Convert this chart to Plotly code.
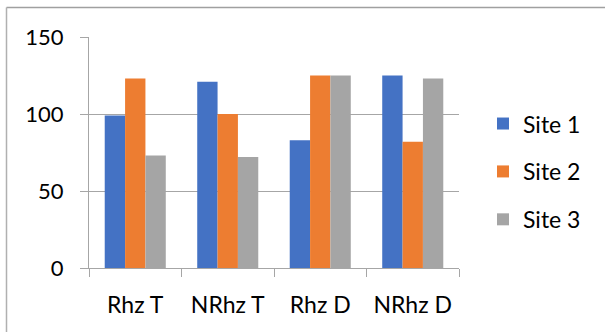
import plotly.graph_objects as go

categories = ["Rhz T", "NRhz T", "Rhz D", "NRhz D"]
site1 = [99, 121, 83, 125]
site2 = [123, 100, 125, 82]
site3 = [73, 72, 125, 123]
series_names = ["Site 1", "Site 2", "Site 3"]
colors = ["#4472C4", "#ED7D31", "#A5A5A5"]
y_ticks = [0, 50, 100, 150]

FONT = "Lato"

fig = go.Figure()
for i, (name, vals) in enumerate(zip(series_names, [site1, site2, site3])):
    fig.add_trace(go.Bar(
        x=categories, y=vals, name=name,
        marker=dict(color=colors[i], line=dict(width=0)),
        legendgroup=name,
    ))

W, H = 605, 332
L, R, T, B = 89, 146, 37, 63.5
pw = W - L - R
ph = H - T - B

fig.update_layout(
    width=W, height=H,
    margin=dict(l=L, r=R, t=T, b=B, pad=0),
    paper_bgcolor="white", plot_bgcolor="white",
    barmode="group", bargap=0.34, bargroupgap=0,
    font=dict(family=FONT, size=23, color="#000000"),
    legend=dict(
        x=(483 - L) / pw, xanchor="left",
        y=(268.5 - 124) / ph + 0.12 - 6 / ph, yanchor="top",
        font=dict(family=FONT, size=23, color="#000000"),
        tracegroupgap=15, itemwidth=30,
        bgcolor="rgba(0,0,0,0)",
    ),
    xaxis=dict(
        showline=True, linecolor="#A6A6A6", linewidth=1,
        ticks="outside", tickson="boundaries", ticklen=8, tickcolor="#A6A6A6",
        tickfont=dict(family=FONT, size=23),
        ticklabelstandoff=16,
        showgrid=False,
    ),
    yaxis=dict(
        range=[0, 150], tickvals=y_ticks,
        showline=True, linecolor="#A6A6A6", linewidth=1,
        ticks="outside", ticklen=8, tickcolor="#A6A6A6",
        showgrid=True, gridcolor="#A6A6A6", gridwidth=1,
        zeroline=False,
        tickfont=dict(family=FONT, size=22),
        ticklabelstandoff=12,
    ),
    shapes=[
        dict(type="line", xref="paper", yref="paper",
             x0=(6.5 - L) / pw, x1=(W - L) / pw,
             y0=(H - B - 7.5) / ph, y1=(H - B - 7.5) / ph,
             line=dict(color="#A0A0A0", width=1.5)),
        dict(type="line", xref="paper", yref="paper",
             x0=(6.5 - L) / pw, x1=(6.5 - L) / pw,
             y0=(H - B - 7.5) / ph, y1=-B / ph - 0.05,
             line=dict(color="#B0B0B0", width=1.5)),
    ],
)

fig.write_html("out.html")
